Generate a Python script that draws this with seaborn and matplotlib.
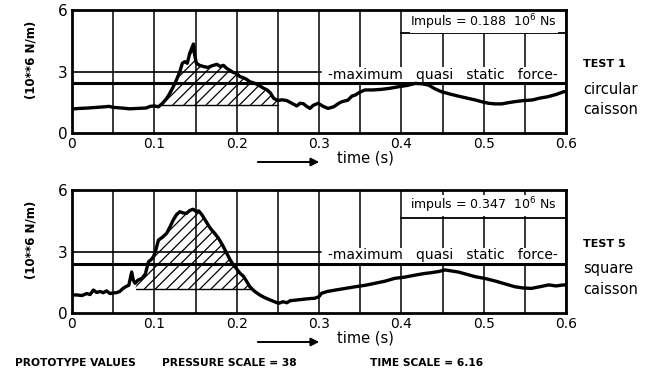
import numpy as np
import pandas as pd
import matplotlib
matplotlib.use("Agg")
import matplotlib.pyplot as plt
import seaborn as sns

sns.set_style("white")
plt.rcParams["font.family"] = ["DejaVu Sans"]
plt.rcParams["hatch.linewidth"] = 0.9
plt.rcParams["text.color"] = "black"
plt.rcParams["xtick.color"] = "black"
plt.rcParams["ytick.color"] = "black"
plt.rcParams["xtick.labelcolor"] = "black"
plt.rcParams["ytick.labelcolor"] = "black"

# ---- TEST 1, circular caisson: force per metre (10**6 N/m) vs time (s)
t_circ = [0.000, 0.010, 0.020, 0.030, 0.040, 0.045, 0.050, 0.060, 0.070, 0.080,
          0.090, 0.095, 0.100, 0.105, 0.110, 0.115, 0.119, 0.123, 0.127, 0.131,
          0.134, 0.137, 0.140, 0.143, 0.1475, 0.149, 0.151, 0.155, 0.160, 0.165,
          0.170, 0.176, 0.180, 0.184, 0.188, 0.192, 0.196, 0.200, 0.204, 0.208,
          0.212, 0.216, 0.220, 0.224, 0.228, 0.232, 0.237, 0.241, 0.245, 0.250,
          0.255, 0.261, 0.267, 0.273, 0.277, 0.281, 0.285, 0.289, 0.293, 0.299,
          0.305, 0.311, 0.318, 0.324, 0.328, 0.335, 0.340, 0.344, 0.350, 0.356,
          0.365, 0.376, 0.386, 0.397, 0.407, 0.417, 0.425, 0.433, 0.441, 0.449,
          0.459, 0.469, 0.480, 0.490, 0.500, 0.506, 0.514, 0.522, 0.530, 0.538,
          0.548, 0.559, 0.568, 0.578, 0.588, 0.597, 0.600]
f_circ = [1.17, 1.20, 1.22, 1.25, 1.28, 1.30, 1.25, 1.22, 1.18, 1.20,
          1.22, 1.30, 1.32, 1.28, 1.45, 1.69, 1.95, 2.26, 2.60, 3.00,
          3.40, 3.48, 3.40, 3.89, 4.34, 3.80, 3.41, 3.30, 3.24, 3.20,
          3.28, 3.35, 3.25, 3.30, 3.15, 3.05, 2.95, 2.91, 2.75, 2.70,
          2.62, 2.50, 2.45, 2.39, 2.30, 2.20, 2.10, 1.95, 1.69, 1.58,
          1.62, 1.58, 1.45, 1.32, 1.45, 1.43, 1.30, 1.20, 1.35, 1.45,
          1.30, 1.20, 1.28, 1.45, 1.53, 1.60, 1.80, 1.85, 2.00, 2.10,
          2.10, 2.13, 2.18, 2.26, 2.32, 2.42, 2.40, 2.34, 2.15, 2.01,
          1.90, 1.80, 1.70, 1.61, 1.50, 1.45, 1.42, 1.42, 1.48, 1.53,
          1.58, 1.61, 1.70, 1.77, 1.88, 2.01, 2.02]

# ---- TEST 5, square caisson
t_sq = [0.000, 0.006, 0.012, 0.018, 0.022, 0.026, 0.030, 0.034, 0.038, 0.042,
        0.046, 0.050, 0.054, 0.058, 0.062, 0.066, 0.069, 0.0725, 0.0745, 0.0766,
        0.080, 0.085, 0.089, 0.093, 0.096, 0.099, 0.102, 0.105, 0.110, 0.115,
        0.119, 0.123, 0.127, 0.131, 0.135, 0.139, 0.143, 0.147, 0.151, 0.154,
        0.158, 0.163, 0.168, 0.173, 0.178, 0.183, 0.188, 0.192, 0.196, 0.200,
        0.204, 0.208, 0.212, 0.216, 0.222, 0.228, 0.234, 0.241, 0.246, 0.251,
        0.256, 0.261, 0.265, 0.272, 0.281, 0.288, 0.295, 0.300, 0.303, 0.310,
        0.320, 0.332, 0.344, 0.356, 0.368, 0.380, 0.392, 0.404, 0.417, 0.427,
        0.437, 0.445, 0.453, 0.461, 0.469, 0.480, 0.490, 0.502, 0.514, 0.526,
        0.538, 0.548, 0.558, 0.568, 0.579, 0.588, 0.597, 0.600]
f_sq = [0.88, 0.88, 0.85, 0.95, 0.90, 1.12, 1.00, 1.05, 0.99, 1.08,
        0.95, 0.98, 0.99, 1.05, 1.20, 1.30, 1.35, 2.00, 1.60, 1.45,
        1.60, 1.69, 1.90, 2.50, 2.60, 2.75, 3.10, 3.56, 3.70, 3.89,
        4.20, 4.54, 4.80, 4.94, 4.88, 4.86, 5.00, 5.06, 4.95, 4.98,
        4.78, 4.45, 4.13, 3.90, 3.64, 3.30, 2.91, 2.60, 2.34, 2.15,
        1.94, 1.80, 1.55, 1.28, 1.05, 0.88, 0.75, 0.63, 0.55, 0.47,
        0.55, 0.50, 0.60, 0.63, 0.67, 0.70, 0.72, 0.80, 0.96, 1.05,
        1.12, 1.20, 1.28, 1.35, 1.45, 1.55, 1.69, 1.75, 1.85, 1.92,
        1.97, 2.02, 2.10, 2.05, 2.00, 1.88, 1.77, 1.68, 1.56, 1.42,
        1.28, 1.22, 1.20, 1.28, 1.37, 1.32, 1.37, 1.36]

# reference levels and impulse annotations
quasi_static = [2.45, 2.38]          # maximum quasi static force (10**6 N/m)
impulse_text = ["Impuls = 0.188  10$^6$ Ns", "impuls = 0.347  10$^6$ Ns"]
impulse_level = [4.88, 4.62]
hatch_span = [(0.108, 0.250), (0.078, 0.219)]
hatch_base = [1.37, 1.16]
test_names = ["TEST 1", "TEST 5"]
shapes = [["circular", "caisson"], ["square", "caisson"]]

x_ticks = [0, 0.1, 0.2, 0.3, 0.4, 0.5, 0.6]
x_ticklabels = ["0", "0.1", "0.2", "0.3", "0.4", "0.5", "0.6"]
y_ticks = [0, 3, 6]

W, H = 652, 374
fig = plt.figure(figsize=(W / 100, H / 100), dpi=100)

def fx(px):
    return px / W

def fy(py):
    return 1 - py / H

series = [pd.DataFrame({"t": t_circ, "F": f_circ}),
          pd.DataFrame({"t": t_sq, "F": f_sq})]
tops = [10, 190]

for i, df in enumerate(series):
    top = tops[i]
    ax = fig.add_axes([fx(72), fy(top + 123), 494 / W, 123 / H])
    ax.set_xlim(0, 0.6)
    ax.set_ylim(0, 6)

    # vertical grid every 0.05 s
    ax.set_xticks(x_ticks)
    ax.set_xticklabels(x_ticklabels, fontsize=10)
    ax.set_xticks(np.arange(0.05, 0.6, 0.1), minor=True)
    ax.set_yticks(y_ticks)
    ax.set_yticklabels([str(v) for v in y_ticks], fontsize=11)
    ax.grid(True, which="both", axis="x", color="black", lw=1.1)
    ax.tick_params(which="both", length=0, pad=3)
    for sp in ax.spines.values():
        sp.set_linewidth(2.0)
        sp.set_color("black")

    # force levels
    ax.plot([0, 0.302], [3, 3], color="black", lw=1.2, zorder=3)
    ax.axhline(quasi_static[i], color="black", lw=2.2, zorder=3)
    ax.plot([0.4, 0.6], [impulse_level[i]] * 2, color="black", lw=1.3, zorder=3)
    ax.text(0.5, (impulse_level[i] + 6) / 2 - 0.05, impulse_text[i],
            ha="center", va="center", fontsize=9,
            bbox=dict(facecolor="white", edgecolor="none", pad=0.5), zorder=4)
    ax.text(0.451, (3 + quasi_static[i]) / 2 + 0.12,
            "\u2010maximum   quasi   static   force\u2010",
            ha="center", va="center", fontsize=10,
            bbox=dict(facecolor="white", edgecolor="none", pad=0.3), zorder=4)

    # hatched impulse area above the base level
    t = df["t"].to_numpy()
    f = df["F"].to_numpy()
    a, b = hatch_span[i]
    base = hatch_base[i]
    mask = (t >= a) & (t <= b)
    ax.fill_between(t, base, f, where=mask & (f >= base), interpolate=True,
                    facecolor="none", edgecolor="black", linewidth=0,
                    hatch="///", zorder=2)
    ax.plot([a, b], [base, base], color="black", lw=1.0, zorder=3)

    # measured force signal
    sns.lineplot(data=df, x="t", y="F", ax=ax, color="black", lw=2.4,
                 zorder=5, estimator=None, sort=False)
    ax.set_xlabel("")
    ax.set_ylabel("")

    # y label
    fig.text(fx(31), fy(top + 50), "(10**6 N/m)", rotation=90,
             ha="center", va="center", fontsize=8.5, fontweight="bold")

    # time arrow
    arrow_y = fy(top + 152)
    fig.patches.append(matplotlib.patches.FancyArrowPatch(
        (fx(255), arrow_y), (fx(322), arrow_y), transform=fig.transFigure,
        arrowstyle="-|>", mutation_scale=12, color="black", lw=1.4))
    fig.text(fx(337), fy(top + 148), "time (s)", ha="left", va="center",
             fontsize=10.5)

    # test labels
    fig.text(fx(583), fy(top + 54), test_names[i], ha="left", va="center",
             fontsize=8, fontweight="bold")
    fig.text(fx(583), fy(top + 79), shapes[i][0], ha="left", va="center",
             fontsize=10.5)
    fig.text(fx(583), fy(top + 100), shapes[i][1], ha="left", va="center",
             fontsize=10.5)

# scale notes along the bottom
fig.text(fx(15), fy(363), "PROTOTYPE VALUES", ha="left", va="center",
         fontsize=7.7, fontweight="bold")
fig.text(fx(162), fy(363), "PRESSURE SCALE = 38", ha="left", va="center",
         fontsize=7.7, fontweight="bold")
fig.text(fx(370), fy(363), "TIME SCALE = 6.16", ha="left", va="center",
         fontsize=7.7, fontweight="bold")

fig.savefig("out.png", dpi=100, facecolor="white")
